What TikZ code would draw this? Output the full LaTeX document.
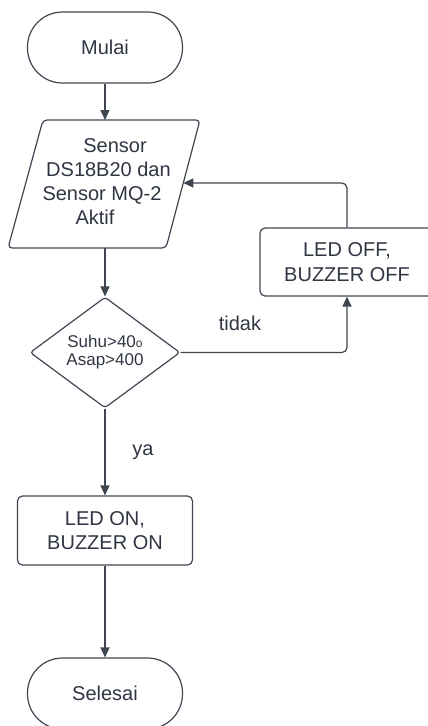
\documentclass[tikz,border=0pt]{standalone}
\usepackage{fontspec}
\setmainfont{Liberation Sans}
\usetikzlibrary{arrows.meta,shapes.geometric}
\definecolor{ln}{HTML}{3F4652}
\definecolor{tx}{HTML}{2F3542}
\begin{document}
\begin{tikzpicture}[x=1pt,y=-1pt,
  every node/.style={text=tx, font=\fontsize{20}{24.5}\selectfont},
  shapeline/.style={draw=ln, line width=1.2pt},
  term/.style={shapeline, rounded corners=35pt, minimum width=155pt, minimum height=71pt, inner sep=0pt},
  proc/.style={shapeline, rounded corners=5pt, inner sep=0pt, align=center},
  dec/.style={shapeline, diamond, rounded corners=3pt, minimum width=150pt, minimum height=105pt, inner sep=0pt, align=center, font=\fontsize{17}{18}\selectfont},
  flow/.style={draw=ln, line width=1.2pt, -{Triangle[length=10pt,width=9pt]}, rounded corners=5pt},
  lbl/.style={inner sep=0pt, anchor=base}
]
\useasboundingbox (0,0) rectangle (428,726);

% Start
\node[term] (start) at (105,47.5) {Mulai};

% Input (parallelogram)
\draw[shapeline, rounded corners=4pt] (43,120) -- (200,120) -- (166,248) -- (8,248) -- cycle;
\coordinate (pin) at (105,120);
\coordinate (pout) at (105,248);
\coordinate (pright) at (183.3,183);
\node[lbl] (s1) at (115,152.5) {Sensor};
\node[lbl] (s2) at (108.5,176.5) {DS18B20 dan};
\node[lbl] (s3) at (102,200.5) {Sensor MQ-2};
\node[lbl] (s4) at (95,224.5) {Aktif};

% Decision
\node[dec] (dec) at (105,352.5) {Suhu>40{\fontsize{12}{12}\selectfont o}\\Asap>400};

% Processes
\node[proc, minimum width=174pt, minimum height=68pt] (off) at (347,262) {LED OFF,\\BUZZER OFF};
\node[proc, minimum width=175pt, minimum height=69pt] (on) at (105,530.5) {LED ON,\\BUZZER ON};

% End
\node[term] (end) at (105,693.5) {Selesai};

% Connectors
\draw[flow] (start) -- (pin);
\draw[flow] (pout) -- (dec);
\draw[flow] (dec) -- (on);
\draw[flow] (on) -- (end);
\draw[flow] (dec.east) -| (off.south);
\draw[flow] (off.north) |- (pright);

% Labels
\node[lbl] (tidak) at (240,330.5) {tidak};
\node[lbl] (ya) at (143,455.5) {ya};
\end{tikzpicture}
\end{document}
